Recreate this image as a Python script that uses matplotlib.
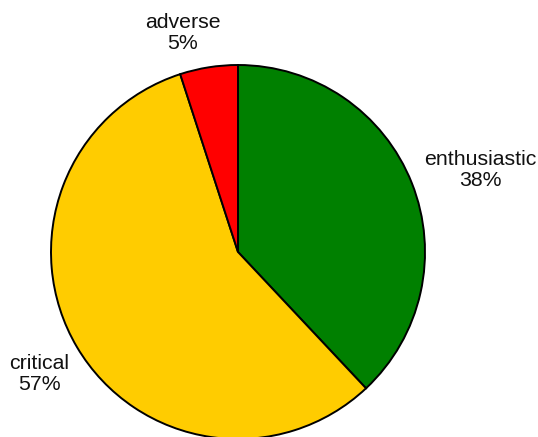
import matplotlib.pyplot as plt

plt.rcParams['font.family'] = ['Liberation Sans', 'DejaVu Sans']

# data
categories = ['enthusiastic', 'critical', 'adverse']
shares = [38, 57, 5]
colors = ['#008000', '#FFCC00', '#FF0000']

# label anchors, in units of the pie radius
label_pos = [(1.294, 0.439), (-1.064, -0.652), (-0.294, 1.171)]

W, H = 538, 437
fig = plt.figure(figsize=(W / 100, H / 100), dpi=100)

# pie centre at (238, 252) px from top-left, radius 187 px
cx, cy, r = 238, 252, 187
ax = fig.add_axes([(cx - r) / W, (H - cy - r) / H, 2 * r / W, 2 * r / H])

wedges, _ = ax.pie(shares, colors=colors, startangle=90, counterclock=False,
                   radius=1.0,
                   wedgeprops=dict(edgecolor='black', linewidth=1.4))

total = sum(shares)
for name, val, (x, y) in zip(categories, shares, label_pos):
    ax.text(x, y, f"{name}\n{round(100 * val / total)}%",
            ha='center', va='center', fontsize=15.3, linespacing=1.12,
            color='#111111')

ax.set_xlim(-1, 1)
ax.set_ylim(-1, 1)
ax.set_aspect('equal')
ax.axis('off')
for w in wedges:
    w.set_clip_on(False)

fig.savefig('out.png', dpi=100)
